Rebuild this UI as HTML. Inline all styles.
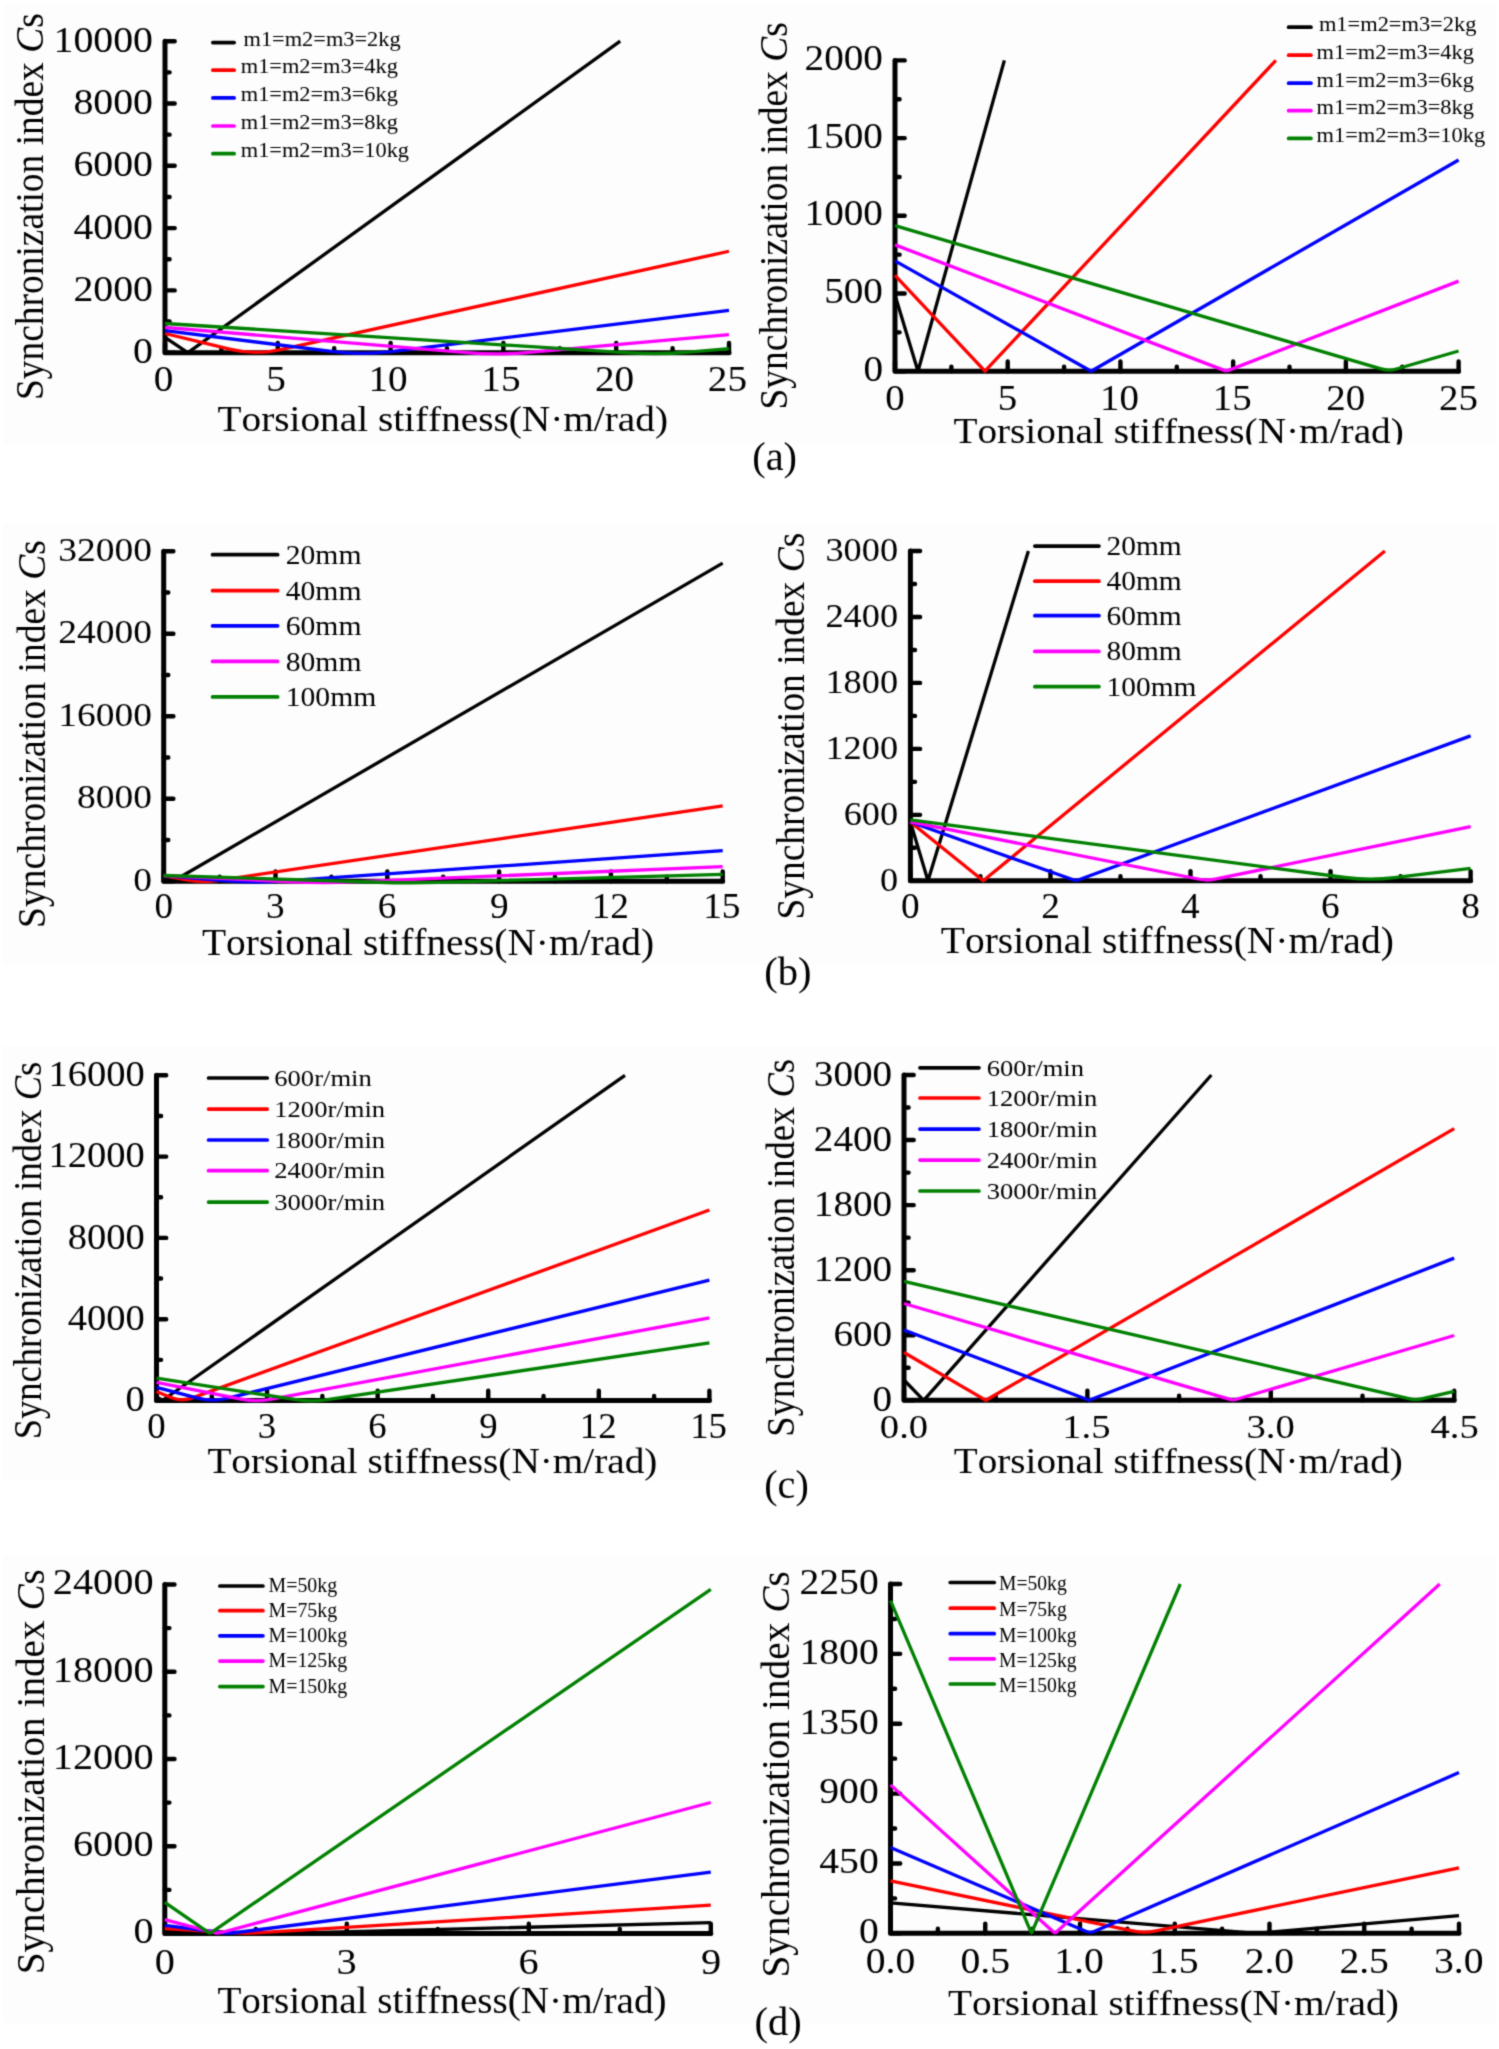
<!DOCTYPE html>
<html><head><meta charset="utf-8"><style>
html,body{margin:0;padding:0;background:#fff;}
svg{display:block;}
text{font-family:"Liberation Serif", serif;font-kerning:none;font-variant-ligatures:none;}
</style></head><body>
<svg width="1499" height="2049" viewBox="0 0 1499 2049">
<defs><filter id="bl" x="0" y="0" width="1" height="1" color-interpolation-filters="sRGB"><feConvolveMatrix order="3" kernelMatrix="0.02768 0.11101 0.02768 0.11101 0.44521 0.11101 0.02768 0.11101 0.02768" edgeMode="duplicate" preserveAlpha="true"/></filter></defs>
<g filter="url(#bl)">
<rect width="1499" height="2049" fill="#fff"/>
<rect x="4" y="4" width="1492" height="440.5" fill="#fdfdfd"/>
<rect x="3" y="524" width="1493" height="441.5" fill="#fdfdfd"/>
<rect x="3" y="1046" width="1493" height="435" fill="#fdfdfd"/>
<rect x="3" y="1556" width="1493" height="467" fill="#fdfdfd"/>
<path d="M165.00,41.20 L165.00,352.70 L729.00,352.70" fill="none" stroke="#000" stroke-width="5" stroke-linejoin="round" stroke-linecap="round"/>
<path d="M165.00,352.70 h9.7 M165.00,321.55 h4.6 M165.00,290.40 h9.7 M165.00,259.25 h4.6 M165.00,228.10 h9.7 M165.00,196.95 h4.6 M165.00,165.80 h9.7 M165.00,134.65 h4.6 M165.00,103.50 h9.7 M165.00,72.35 h4.6 M165.00,41.20 h9.7 M165.00,352.70 v-9.7 M221.40,352.70 v-4.6 M277.80,352.70 v-9.7 M334.20,352.70 v-4.6 M390.60,352.70 v-9.7 M447.00,352.70 v-4.6 M503.40,352.70 v-9.7 M559.80,352.70 v-4.6 M616.20,352.70 v-9.7 M672.60,352.70 v-4.6 M729.00,352.70 v-9.7" fill="none" stroke="#000" stroke-width="4.4" stroke-linecap="round"/>
<path d="M165.00,337.44 L185.51,351.04 Q188.01,352.70 190.44,350.95 L620.20,41.20" fill="none" stroke="#000000" stroke-width="3.3" stroke-linejoin="round"/>
<path d="M165.00,333.51 L230.71,349.34 Q255.01,355.20 279.43,349.84 L729.00,251.26" fill="none" stroke="#ff0000" stroke-width="3.3" stroke-linejoin="round"/>
<path d="M165.00,330.58 L331.51,351.47 Q361.27,355.20 391.05,351.57 L729.00,310.35" fill="none" stroke="#0000ff" stroke-width="3.3" stroke-linejoin="round"/>
<path d="M165.00,327.38 L466.74,352.69 Q496.63,355.20 526.52,352.56 L729.00,334.64" fill="none" stroke="#ff00ff" stroke-width="3.3" stroke-linejoin="round"/>
<path d="M165.00,323.51 L629.12,352.81 Q659.06,354.70 688.95,352.11 L729.00,348.64" fill="none" stroke="#008000" stroke-width="3.3" stroke-linejoin="round"/>
<text transform="translate(133.11,363.29) scale(1.1060,1)" font-size="36" fill="#000">0</text>
<text transform="translate(73.38,300.99) scale(1.1060,1)" font-size="36" fill="#000">2000</text>
<text transform="translate(73.38,238.69) scale(1.1060,1)" font-size="36" fill="#000">4000</text>
<text transform="translate(73.38,176.39) scale(1.1060,1)" font-size="36" fill="#000">6000</text>
<text transform="translate(73.38,114.09) scale(1.1060,1)" font-size="36" fill="#000">8000</text>
<text transform="translate(53.48,51.79) scale(1.1060,1)" font-size="36" fill="#000">10000</text>
<text transform="translate(153.70,390.80) scale(1.1200,1)" font-size="35" fill="#000">0</text>
<text transform="translate(266.13,390.80) scale(1.1200,1)" font-size="35" fill="#000">5</text>
<text transform="translate(368.52,390.80) scale(1.1200,1)" font-size="35" fill="#000">10</text>
<text transform="translate(481.34,390.80) scale(1.1200,1)" font-size="35" fill="#000">15</text>
<text transform="translate(594.99,390.80) scale(1.1200,1)" font-size="35" fill="#000">20</text>
<text transform="translate(707.80,390.80) scale(1.1200,1)" font-size="35" fill="#000">25</text>
<text transform="translate(217.59,430.70) scale(1.1099,1)" font-size="35.4" fill="#000">Torsional stiffness(N·m/rad)</text>
<text transform="translate(43.40,400.00) rotate(-90) scale(1.0401,1.1200)" font-size="36">Synchronization index <tspan font-style="italic">C</tspan>s</text>
<line x1="212.85" y1="42.60" x2="234.15" y2="42.60" stroke="#000000" stroke-width="3.7" stroke-linecap="round"/>
<text transform="translate(243.53,45.60) scale(1.0655,1)" font-size="21">m1=m2=m3=2kg</text>
<line x1="212.85" y1="70.20" x2="234.15" y2="70.20" stroke="#ff0000" stroke-width="3.7" stroke-linecap="round"/>
<text transform="translate(240.73,73.20) scale(1.0655,1)" font-size="21">m1=m2=m3=4kg</text>
<line x1="212.85" y1="97.90" x2="234.15" y2="97.90" stroke="#0000ff" stroke-width="3.7" stroke-linecap="round"/>
<text transform="translate(240.73,100.90) scale(1.0655,1)" font-size="21">m1=m2=m3=6kg</text>
<line x1="212.85" y1="126.00" x2="234.15" y2="126.00" stroke="#ff00ff" stroke-width="3.7" stroke-linecap="round"/>
<text transform="translate(240.73,129.00) scale(1.0655,1)" font-size="21">m1=m2=m3=8kg</text>
<line x1="212.85" y1="153.70" x2="234.15" y2="153.70" stroke="#008000" stroke-width="3.7" stroke-linecap="round"/>
<text transform="translate(240.73,156.70) scale(1.0655,1)" font-size="21">m1=m2=m3=10kg</text>
<path d="M895.00,60.40 L895.00,371.20 L1458.60,371.20" fill="none" stroke="#000" stroke-width="5" stroke-linejoin="round" stroke-linecap="round"/>
<path d="M895.00,371.20 h9.7 M895.00,332.35 h4.6 M895.00,293.50 h9.7 M895.00,254.65 h4.6 M895.00,215.80 h9.7 M895.00,176.95 h4.6 M895.00,138.10 h9.7 M895.00,99.25 h4.6 M895.00,60.40 h9.7 M895.00,371.20 v-9.7 M951.36,371.20 v-4.6 M1007.72,371.20 v-9.7 M1064.08,371.20 v-4.6 M1120.44,371.20 v-9.7 M1176.80,371.20 v-4.6 M1233.16,371.20 v-9.7 M1289.52,371.20 v-4.6 M1345.88,371.20 v-9.7 M1402.24,371.20 v-4.6 M1458.60,371.20 v-9.7" fill="none" stroke="#000" stroke-width="4.4" stroke-linecap="round"/>
<path d="M895.00,295.05 L917.99,371.20 L1004.37,60.40" fill="none" stroke="#000000" stroke-width="3.3" stroke-linejoin="round"/>
<path d="M895.00,275.47 L984.95,371.20 L1275.84,60.40" fill="none" stroke="#ff0000" stroke-width="3.3" stroke-linejoin="round"/>
<path d="M895.00,260.87 L1091.13,371.20 L1458.60,159.95" fill="none" stroke="#0000ff" stroke-width="3.3" stroke-linejoin="round"/>
<path d="M895.00,244.86 L1223.59,370.13 Q1226.40,371.20 1229.19,370.11 L1458.60,281.09" fill="none" stroke="#ff00ff" stroke-width="3.3" stroke-linejoin="round"/>
<path d="M895.00,225.59 L1381.04,368.94 Q1388.71,371.20 1396.40,368.98 L1458.60,350.97" fill="none" stroke="#008000" stroke-width="3.3" stroke-linejoin="round"/>
<text transform="translate(863.39,380.66) scale(1.1200,1)" font-size="35" fill="#000">0</text>
<text transform="translate(824.19,302.96) scale(1.1200,1)" font-size="35" fill="#000">500</text>
<text transform="translate(804.59,225.26) scale(1.1200,1)" font-size="35" fill="#000">1000</text>
<text transform="translate(804.59,147.56) scale(1.1200,1)" font-size="35" fill="#000">1500</text>
<text transform="translate(804.59,69.86) scale(1.1200,1)" font-size="35" fill="#000">2000</text>
<text transform="translate(885.28,410.00) scale(1.0800,1)" font-size="36" fill="#000">0</text>
<text transform="translate(997.63,410.00) scale(1.0800,1)" font-size="36" fill="#000">5</text>
<text transform="translate(1100.03,410.00) scale(1.0800,1)" font-size="36" fill="#000">10</text>
<text transform="translate(1212.77,410.00) scale(1.0800,1)" font-size="36" fill="#000">15</text>
<text transform="translate(1326.33,410.00) scale(1.0800,1)" font-size="36" fill="#000">20</text>
<text transform="translate(1439.07,410.00) scale(1.0800,1)" font-size="36" fill="#000">25</text>
<text transform="translate(953.39,443.40) scale(1.0733,1)" font-size="36.6" fill="#000">Torsional stiffness(N·m/rad)</text>
<text transform="translate(787.00,409.61) rotate(-90) scale(1.0422,1.1400)" font-size="36">Synchronization index <tspan font-style="italic">C</tspan>s</text>
<line x1="1288.65" y1="27.20" x2="1310.95" y2="27.20" stroke="#000000" stroke-width="3.7" stroke-linecap="round"/>
<text transform="translate(1318.93,30.80) scale(1.0936,1)" font-size="20.5">m1=m2=m3=2kg</text>
<line x1="1288.65" y1="55.20" x2="1310.95" y2="55.20" stroke="#ff0000" stroke-width="3.7" stroke-linecap="round"/>
<text transform="translate(1316.53,58.80) scale(1.0936,1)" font-size="20.5">m1=m2=m3=4kg</text>
<line x1="1288.65" y1="83.20" x2="1310.95" y2="83.20" stroke="#0000ff" stroke-width="3.7" stroke-linecap="round"/>
<text transform="translate(1316.53,86.80) scale(1.0936,1)" font-size="20.5">m1=m2=m3=6kg</text>
<line x1="1288.65" y1="110.70" x2="1310.95" y2="110.70" stroke="#ff00ff" stroke-width="3.7" stroke-linecap="round"/>
<text transform="translate(1316.53,114.30) scale(1.0936,1)" font-size="20.5">m1=m2=m3=8kg</text>
<line x1="1288.65" y1="138.40" x2="1310.95" y2="138.40" stroke="#008000" stroke-width="3.7" stroke-linecap="round"/>
<text transform="translate(1316.53,142.00) scale(1.0936,1)" font-size="20.5">m1=m2=m3=10kg</text>
<path d="M163.70,551.30 L163.70,881.20 L722.70,881.20" fill="none" stroke="#000" stroke-width="5" stroke-linejoin="round" stroke-linecap="round"/>
<path d="M163.70,881.20 h9.7 M163.70,839.96 h4.6 M163.70,798.73 h9.7 M163.70,757.49 h4.6 M163.70,716.25 h9.7 M163.70,675.01 h4.6 M163.70,633.77 h9.7 M163.70,592.54 h4.6 M163.70,551.30 h9.7 M163.70,881.20 v-9.7 M219.60,881.20 v-4.6 M275.50,881.20 v-9.7 M331.40,881.20 v-4.6 M387.30,881.20 v-9.7 M443.20,881.20 v-4.6 M499.10,881.20 v-9.7 M555.00,881.20 v-4.6 M610.90,881.20 v-9.7 M666.80,881.20 v-4.6 M722.70,881.20 v-9.7" fill="none" stroke="#000" stroke-width="4.4" stroke-linecap="round"/>
<path d="M163.70,875.68 L170.47,879.68 Q173.05,881.20 175.65,879.70 L722.70,563.11" fill="none" stroke="#000000" stroke-width="3.3" stroke-linejoin="round"/>
<path d="M163.70,875.68 L187.70,880.03 Q202.46,882.70 217.30,880.51 L722.70,805.93" fill="none" stroke="#ff0000" stroke-width="3.3" stroke-linejoin="round"/>
<path d="M163.70,875.68 L221.94,880.65 Q251.84,883.20 281.76,881.14 L722.70,850.72" fill="none" stroke="#0000ff" stroke-width="3.3" stroke-linejoin="round"/>
<path d="M163.70,875.68 L291.74,881.77 Q321.71,883.20 351.69,881.96 L722.70,866.67" fill="none" stroke="#ff00ff" stroke-width="3.3" stroke-linejoin="round"/>
<path d="M163.70,875.48 L378.18,882.25 Q408.17,883.20 438.16,882.35 L722.70,874.33" fill="none" stroke="#008000" stroke-width="3.3" stroke-linejoin="round"/>
<text transform="translate(133.37,890.67) scale(1.1200,1)" font-size="33.5" fill="#000">0</text>
<text transform="translate(77.09,808.20) scale(1.1200,1)" font-size="33.5" fill="#000">8000</text>
<text transform="translate(58.33,725.72) scale(1.1200,1)" font-size="33.5" fill="#000">16000</text>
<text transform="translate(58.33,643.25) scale(1.1200,1)" font-size="33.5" fill="#000">24000</text>
<text transform="translate(58.33,560.77) scale(1.1200,1)" font-size="33.5" fill="#000">32000</text>
<text transform="translate(154.38,918.20) scale(1.0500,1)" font-size="35.5" fill="#000">0</text>
<text transform="translate(266.02,918.20) scale(1.0500,1)" font-size="35.5" fill="#000">3</text>
<text transform="translate(377.74,918.20) scale(1.0500,1)" font-size="35.5" fill="#000">6</text>
<text transform="translate(489.95,918.20) scale(1.0500,1)" font-size="35.5" fill="#000">9</text>
<text transform="translate(591.65,918.20) scale(1.0500,1)" font-size="35.5" fill="#000">12</text>
<text transform="translate(703.15,918.20) scale(1.0500,1)" font-size="35.5" fill="#000">15</text>
<text transform="translate(201.99,955.00) scale(1.0684,1)" font-size="36.9" fill="#000">Torsional stiffness(N·m/rad)</text>
<text transform="translate(44.50,927.91) rotate(-90) scale(1.0431,1.1300)" font-size="36">Synchronization index <tspan font-style="italic">C</tspan>s</text>
<line x1="212.55" y1="554.70" x2="277.65" y2="554.70" stroke="#000000" stroke-width="3.7" stroke-linecap="round"/>
<text transform="translate(285.70,564.10) scale(1.0980,1)" font-size="27">20mm</text>
<line x1="212.55" y1="590.70" x2="277.65" y2="590.70" stroke="#ff0000" stroke-width="3.7" stroke-linecap="round"/>
<text transform="translate(285.70,600.10) scale(1.0980,1)" font-size="27">40mm</text>
<line x1="212.55" y1="625.80" x2="277.65" y2="625.80" stroke="#0000ff" stroke-width="3.7" stroke-linecap="round"/>
<text transform="translate(285.70,635.20) scale(1.0980,1)" font-size="27">60mm</text>
<line x1="212.55" y1="661.40" x2="277.65" y2="661.40" stroke="#ff00ff" stroke-width="3.7" stroke-linecap="round"/>
<text transform="translate(285.70,670.80) scale(1.0980,1)" font-size="27">80mm</text>
<line x1="212.55" y1="696.90" x2="277.65" y2="696.90" stroke="#008000" stroke-width="3.7" stroke-linecap="round"/>
<text transform="translate(285.70,706.30) scale(1.0980,1)" font-size="27">100mm</text>
<path d="M910.40,551.00 L910.40,880.80 L1470.60,880.80" fill="none" stroke="#000" stroke-width="5" stroke-linejoin="round" stroke-linecap="round"/>
<path d="M910.40,880.80 h9.7 M910.40,847.82 h4.6 M910.40,814.84 h9.7 M910.40,781.86 h4.6 M910.40,748.88 h9.7 M910.40,715.90 h4.6 M910.40,682.92 h9.7 M910.40,649.94 h4.6 M910.40,616.96 h9.7 M910.40,583.98 h4.6 M910.40,551.00 h9.7 M910.40,880.80 v-9.7 M980.42,880.80 v-4.6 M1050.45,880.80 v-9.7 M1120.47,880.80 v-4.6 M1190.50,880.80 v-9.7 M1260.52,880.80 v-4.6 M1330.55,880.80 v-9.7 M1400.57,880.80 v-4.6 M1470.60,880.80 v-9.7" fill="none" stroke="#000" stroke-width="4.4" stroke-linecap="round"/>
<path d="M910.40,821.99 L927.98,880.80 L1028.39,551.00" fill="none" stroke="#000000" stroke-width="3.3" stroke-linejoin="round"/>
<path d="M910.40,821.99 L983.23,880.80 L1384.90,551.00" fill="none" stroke="#ff0000" stroke-width="3.3" stroke-linejoin="round"/>
<path d="M910.40,821.99 L1073.18,879.80 Q1076.01,880.80 1078.83,879.77 L1470.60,735.84" fill="none" stroke="#0000ff" stroke-width="3.3" stroke-linejoin="round"/>
<path d="M910.40,821.99 L1199.46,879.25 Q1207.31,880.80 1215.14,879.19 L1470.60,826.65" fill="none" stroke="#ff00ff" stroke-width="3.3" stroke-linejoin="round"/>
<path d="M910.40,819.79 L1344.98,877.51 Q1369.76,880.80 1394.57,877.72 L1470.60,868.29" fill="none" stroke="#008000" stroke-width="3.3" stroke-linejoin="round"/>
<text transform="translate(879.93,890.61) scale(1.1000,1)" font-size="33" fill="#000">0</text>
<text transform="translate(843.63,824.65) scale(1.1000,1)" font-size="33" fill="#000">600</text>
<text transform="translate(825.48,758.69) scale(1.1000,1)" font-size="33" fill="#000">1200</text>
<text transform="translate(825.48,692.73) scale(1.1000,1)" font-size="33" fill="#000">1800</text>
<text transform="translate(825.48,626.77) scale(1.1000,1)" font-size="33" fill="#000">2400</text>
<text transform="translate(825.48,560.81) scale(1.1000,1)" font-size="33" fill="#000">3000</text>
<text transform="translate(901.08,918.20) scale(1.0500,1)" font-size="35.5" fill="#000">0</text>
<text transform="translate(1041.34,918.20) scale(1.0500,1)" font-size="35.5" fill="#000">2</text>
<text transform="translate(1181.11,918.20) scale(1.0500,1)" font-size="35.5" fill="#000">4</text>
<text transform="translate(1320.99,918.20) scale(1.0500,1)" font-size="35.5" fill="#000">6</text>
<text transform="translate(1461.28,918.20) scale(1.0500,1)" font-size="35.5" fill="#000">8</text>
<text transform="translate(940.79,953.30) scale(1.0705,1)" font-size="36.9" fill="#000">Torsional stiffness(N·m/rad)</text>
<text transform="translate(803.70,919.50) rotate(-90) scale(1.0401,1.1300)" font-size="36">Synchronization index <tspan font-style="italic">C</tspan>s</text>
<line x1="1034.85" y1="546.10" x2="1098.95" y2="546.10" stroke="#000000" stroke-width="3.7" stroke-linecap="round"/>
<text transform="translate(1106.51,555.10) scale(1.1112,1)" font-size="26.5">20mm</text>
<line x1="1034.85" y1="581.20" x2="1098.95" y2="581.20" stroke="#ff0000" stroke-width="3.7" stroke-linecap="round"/>
<text transform="translate(1106.51,590.20) scale(1.1112,1)" font-size="26.5">40mm</text>
<line x1="1034.85" y1="615.70" x2="1098.95" y2="615.70" stroke="#0000ff" stroke-width="3.7" stroke-linecap="round"/>
<text transform="translate(1106.51,624.70) scale(1.1112,1)" font-size="26.5">60mm</text>
<line x1="1034.85" y1="651.40" x2="1098.95" y2="651.40" stroke="#ff00ff" stroke-width="3.7" stroke-linecap="round"/>
<text transform="translate(1106.51,660.40) scale(1.1112,1)" font-size="26.5">80mm</text>
<line x1="1034.85" y1="686.70" x2="1098.95" y2="686.70" stroke="#008000" stroke-width="3.7" stroke-linecap="round"/>
<text transform="translate(1106.51,695.70) scale(1.1112,1)" font-size="26.5">100mm</text>
<path d="M156.50,1075.30 L156.50,1400.50 L709.40,1400.50" fill="none" stroke="#000" stroke-width="5" stroke-linejoin="round" stroke-linecap="round"/>
<path d="M156.50,1400.50 h9.7 M156.50,1359.85 h4.6 M156.50,1319.20 h9.7 M156.50,1278.55 h4.6 M156.50,1237.90 h9.7 M156.50,1197.25 h4.6 M156.50,1156.60 h9.7 M156.50,1115.95 h4.6 M156.50,1075.30 h9.7 M156.50,1400.50 v-9.7 M211.79,1400.50 v-4.6 M267.08,1400.50 v-9.7 M322.37,1400.50 v-4.6 M377.66,1400.50 v-9.7 M432.95,1400.50 v-4.6 M488.24,1400.50 v-9.7 M543.53,1400.50 v-4.6 M598.82,1400.50 v-9.7 M654.11,1400.50 v-4.6 M709.40,1400.50 v-9.7" fill="none" stroke="#000" stroke-width="4.4" stroke-linecap="round"/>
<path d="M156.50,1396.70 L159.91,1398.88 Q162.43,1400.50 164.89,1398.77 L624.99,1075.30" fill="none" stroke="#000000" stroke-width="3.3" stroke-linejoin="round"/>
<path d="M156.50,1391.54 L170.15,1397.32 Q181.20,1402.00 192.47,1397.90 L709.40,1210.02" fill="none" stroke="#ff0000" stroke-width="3.3" stroke-linejoin="round"/>
<path d="M156.50,1387.33 L197.80,1398.19 Q212.31,1402.00 226.87,1398.43 L709.40,1280.17" fill="none" stroke="#0000ff" stroke-width="3.3" stroke-linejoin="round"/>
<path d="M156.50,1382.35 L240.94,1399.08 Q255.65,1402.00 270.40,1399.27 L709.40,1317.93" fill="none" stroke="#ff00ff" stroke-width="3.3" stroke-linejoin="round"/>
<path d="M156.50,1378.22 L295.93,1399.72 Q310.76,1402.00 325.60,1399.80 L709.40,1342.91" fill="none" stroke="#008000" stroke-width="3.3" stroke-linejoin="round"/>
<text transform="translate(125.62,1411.26) scale(1.1000,1)" font-size="35" fill="#000">0</text>
<text transform="translate(67.87,1329.96) scale(1.1000,1)" font-size="35" fill="#000">4000</text>
<text transform="translate(67.87,1248.66) scale(1.1000,1)" font-size="35" fill="#000">8000</text>
<text transform="translate(48.62,1167.36) scale(1.1000,1)" font-size="35" fill="#000">12000</text>
<text transform="translate(48.62,1086.06) scale(1.1000,1)" font-size="35" fill="#000">16000</text>
<text transform="translate(147.31,1438.40) scale(1.0500,1)" font-size="35" fill="#000">0</text>
<text transform="translate(257.73,1438.40) scale(1.0500,1)" font-size="35" fill="#000">3</text>
<text transform="translate(368.23,1438.40) scale(1.0500,1)" font-size="35" fill="#000">6</text>
<text transform="translate(479.21,1438.40) scale(1.0500,1)" font-size="35" fill="#000">9</text>
<text transform="translate(579.84,1438.40) scale(1.0500,1)" font-size="35" fill="#000">12</text>
<text transform="translate(690.13,1438.40) scale(1.0500,1)" font-size="35" fill="#000">15</text>
<text transform="translate(207.39,1472.70) scale(1.1181,1)" font-size="35.1" fill="#000">Torsional stiffness(N·m/rad)</text>
<text transform="translate(41.00,1439.35) rotate(-90) scale(1.0156,1.0900)" font-size="36">Synchronization index <tspan font-style="italic">C</tspan>s</text>
<line x1="208.55" y1="1078.00" x2="267.25" y2="1078.00" stroke="#000000" stroke-width="3.7" stroke-linecap="round"/>
<text transform="translate(274.26,1085.50) scale(1.1669,1)" font-size="22.8">600r/min</text>
<line x1="208.55" y1="1109.10" x2="267.25" y2="1109.10" stroke="#ff0000" stroke-width="3.7" stroke-linecap="round"/>
<text transform="translate(274.26,1116.60) scale(1.1669,1)" font-size="22.8">1200r/min</text>
<line x1="208.55" y1="1140.00" x2="267.25" y2="1140.00" stroke="#0000ff" stroke-width="3.7" stroke-linecap="round"/>
<text transform="translate(274.26,1147.50) scale(1.1669,1)" font-size="22.8">1800r/min</text>
<line x1="208.55" y1="1170.70" x2="267.25" y2="1170.70" stroke="#ff00ff" stroke-width="3.7" stroke-linecap="round"/>
<text transform="translate(274.26,1178.20) scale(1.1669,1)" font-size="22.8">2400r/min</text>
<line x1="208.55" y1="1202.10" x2="267.25" y2="1202.10" stroke="#008000" stroke-width="3.7" stroke-linecap="round"/>
<text transform="translate(274.26,1209.60) scale(1.1669,1)" font-size="22.8">3000r/min</text>
<path d="M904.00,1075.00 L904.00,1400.30 L1454.20,1400.30" fill="none" stroke="#000" stroke-width="5" stroke-linejoin="round" stroke-linecap="round"/>
<path d="M904.00,1400.30 h9.7 M904.00,1367.77 h4.6 M904.00,1335.24 h9.7 M904.00,1302.71 h4.6 M904.00,1270.18 h9.7 M904.00,1237.65 h4.6 M904.00,1205.12 h9.7 M904.00,1172.59 h4.6 M904.00,1140.06 h9.7 M904.00,1107.53 h4.6 M904.00,1075.00 h9.7 M904.00,1400.30 v-9.7 M995.70,1400.30 v-4.6 M1087.40,1400.30 v-9.7 M1179.10,1400.30 v-4.6 M1270.80,1400.30 v-9.7 M1362.50,1400.30 v-4.6 M1454.20,1400.30 v-9.7" fill="none" stroke="#000" stroke-width="4.4" stroke-linecap="round"/>
<path d="M904.00,1380.02 L923.68,1400.30 L1211.37,1075.00" fill="none" stroke="#000000" stroke-width="3.3" stroke-linejoin="round"/>
<path d="M904.00,1352.48 L985.92,1400.30 L1454.20,1128.69" fill="none" stroke="#ff0000" stroke-width="3.3" stroke-linejoin="round"/>
<path d="M904.00,1330.04 L1089.11,1400.30 L1454.20,1258.16" fill="none" stroke="#0000ff" stroke-width="3.3" stroke-linejoin="round"/>
<path d="M904.00,1303.47 L1230.02,1399.45 Q1232.90,1400.30 1235.78,1399.46 L1454.20,1335.53" fill="none" stroke="#ff00ff" stroke-width="3.3" stroke-linejoin="round"/>
<path d="M904.00,1281.46 L1409.84,1398.94 Q1415.69,1400.30 1421.53,1398.94 L1454.20,1391.35" fill="none" stroke="#008000" stroke-width="3.3" stroke-linejoin="round"/>
<text transform="translate(872.59,1411.26) scale(1.1200,1)" font-size="35" fill="#000">0</text>
<text transform="translate(833.39,1346.20) scale(1.1200,1)" font-size="35" fill="#000">600</text>
<text transform="translate(813.79,1281.14) scale(1.1200,1)" font-size="35" fill="#000">1200</text>
<text transform="translate(813.79,1216.08) scale(1.1200,1)" font-size="35" fill="#000">1800</text>
<text transform="translate(813.79,1151.02) scale(1.1200,1)" font-size="35" fill="#000">2400</text>
<text transform="translate(813.79,1085.96) scale(1.1200,1)" font-size="35" fill="#000">3000</text>
<text transform="translate(879.85,1438.20) scale(1.1200,1)" font-size="34.5" fill="#000">0.0</text>
<text transform="translate(1062.31,1438.20) scale(1.1200,1)" font-size="34.5" fill="#000">1.5</text>
<text transform="translate(1246.46,1438.20) scale(1.1200,1)" font-size="34.5" fill="#000">3.0</text>
<text transform="translate(1430.43,1438.20) scale(1.1200,1)" font-size="34.5" fill="#000">4.5</text>
<text transform="translate(953.79,1472.70) scale(1.1159,1)" font-size="35.1" fill="#000">Torsional stiffness(N·m/rad)</text>
<text transform="translate(794.40,1436.65) rotate(-90) scale(1.0156,1.1000)" font-size="36">Synchronization index <tspan font-style="italic">C</tspan>s</text>
<line x1="919.95" y1="1067.80" x2="978.95" y2="1067.80" stroke="#000000" stroke-width="3.7" stroke-linecap="round"/>
<text transform="translate(986.66,1076.00) scale(1.1543,1)" font-size="23">600r/min</text>
<line x1="919.95" y1="1098.00" x2="978.95" y2="1098.00" stroke="#ff0000" stroke-width="3.7" stroke-linecap="round"/>
<text transform="translate(986.66,1106.20) scale(1.1543,1)" font-size="23">1200r/min</text>
<line x1="919.95" y1="1129.10" x2="978.95" y2="1129.10" stroke="#0000ff" stroke-width="3.7" stroke-linecap="round"/>
<text transform="translate(986.66,1137.30) scale(1.1543,1)" font-size="23">1800r/min</text>
<line x1="919.95" y1="1160.10" x2="978.95" y2="1160.10" stroke="#ff00ff" stroke-width="3.7" stroke-linecap="round"/>
<text transform="translate(986.66,1168.30) scale(1.1543,1)" font-size="23">2400r/min</text>
<line x1="919.95" y1="1191.00" x2="978.95" y2="1191.00" stroke="#008000" stroke-width="3.7" stroke-linecap="round"/>
<text transform="translate(986.66,1199.20) scale(1.1543,1)" font-size="23">3000r/min</text>
<path d="M164.80,1584.50 L164.80,1933.50 L710.80,1933.50" fill="none" stroke="#000" stroke-width="5" stroke-linejoin="round" stroke-linecap="round"/>
<path d="M164.80,1933.50 h9.7 M164.80,1889.88 h4.6 M164.80,1846.25 h9.7 M164.80,1802.62 h4.6 M164.80,1759.00 h9.7 M164.80,1715.38 h4.6 M164.80,1671.75 h9.7 M164.80,1628.12 h4.6 M164.80,1584.50 h9.7 M164.80,1933.50 v-9.7 M255.80,1933.50 v-4.6 M346.80,1933.50 v-9.7 M437.80,1933.50 v-4.6 M528.80,1933.50 v-9.7 M619.80,1933.50 v-4.6 M710.80,1933.50 v-9.7" fill="none" stroke="#000" stroke-width="4.4" stroke-linecap="round"/>
<path d="M164.80,1930.65 L271.89,1933.26 Q281.89,1933.50 291.88,1933.25 L710.80,1922.60" fill="none" stroke="#000000" stroke-width="3.3" stroke-linejoin="round"/>
<path d="M164.80,1928.60 L236.11,1932.90 Q246.09,1933.50 256.07,1932.89 L710.80,1905.21" fill="none" stroke="#ff0000" stroke-width="3.3" stroke-linejoin="round"/>
<path d="M164.80,1925.46 L220.81,1932.50 Q228.74,1933.50 236.68,1932.49 L710.80,1872.03" fill="none" stroke="#0000ff" stroke-width="3.3" stroke-linejoin="round"/>
<path d="M164.80,1919.60 L213.59,1932.48 Q217.46,1933.50 221.32,1932.47 L710.80,1802.48" fill="none" stroke="#ff00ff" stroke-width="3.3" stroke-linejoin="round"/>
<path d="M164.80,1902.34 L208.29,1932.36 Q209.94,1933.50 211.58,1932.37 L710.80,1589.42" fill="none" stroke="#008000" stroke-width="3.3" stroke-linejoin="round"/>
<text transform="translate(133.38,1943.29) scale(1.1200,1)" font-size="36" fill="#000">0</text>
<text transform="translate(72.90,1856.04) scale(1.1200,1)" font-size="36" fill="#000">6000</text>
<text transform="translate(52.74,1768.79) scale(1.1200,1)" font-size="36" fill="#000">12000</text>
<text transform="translate(52.74,1681.54) scale(1.1200,1)" font-size="36" fill="#000">18000</text>
<text transform="translate(52.74,1594.29) scale(1.1200,1)" font-size="36" fill="#000">24000</text>
<text transform="translate(154.72,1974.20) scale(1.1200,1)" font-size="36" fill="#000">0</text>
<text transform="translate(336.54,1974.20) scale(1.1200,1)" font-size="36" fill="#000">3</text>
<text transform="translate(518.45,1974.20) scale(1.1200,1)" font-size="36" fill="#000">6</text>
<text transform="translate(700.90,1974.20) scale(1.1200,1)" font-size="36" fill="#000">9</text>
<text transform="translate(217.39,2013.00) scale(1.0174,1)" font-size="38.5" fill="#000">Torsional stiffness(N·m/rad)</text>
<text transform="translate(43.70,1974.32) rotate(-90) scale(1.0895,1.1200)" font-size="36">Synchronization index <tspan font-style="italic">C</tspan>s</text>
<line x1="219.85" y1="1586.00" x2="262.95" y2="1586.00" stroke="#000000" stroke-width="3.7" stroke-linecap="round"/>
<text transform="translate(268.53,1592.10) scale(0.9940,1)" font-size="20">M=50kg</text>
<line x1="219.85" y1="1610.70" x2="262.95" y2="1610.70" stroke="#ff0000" stroke-width="3.7" stroke-linecap="round"/>
<text transform="translate(268.53,1616.80) scale(0.9940,1)" font-size="20">M=75kg</text>
<line x1="219.85" y1="1635.80" x2="262.95" y2="1635.80" stroke="#0000ff" stroke-width="3.7" stroke-linecap="round"/>
<text transform="translate(268.53,1641.90) scale(0.9940,1)" font-size="20">M=100kg</text>
<line x1="219.85" y1="1661.10" x2="262.95" y2="1661.10" stroke="#ff00ff" stroke-width="3.7" stroke-linecap="round"/>
<text transform="translate(268.53,1667.20) scale(0.9940,1)" font-size="20">M=125kg</text>
<line x1="219.85" y1="1686.60" x2="262.95" y2="1686.60" stroke="#008000" stroke-width="3.7" stroke-linecap="round"/>
<text transform="translate(268.53,1692.70) scale(0.9940,1)" font-size="20">M=150kg</text>
<path d="M890.50,1584.00 L890.50,1933.30 L1459.00,1933.30" fill="none" stroke="#000" stroke-width="5" stroke-linejoin="round" stroke-linecap="round"/>
<path d="M890.50,1933.30 h9.7 M890.50,1898.37 h4.6 M890.50,1863.44 h9.7 M890.50,1828.51 h4.6 M890.50,1793.58 h9.7 M890.50,1758.65 h4.6 M890.50,1723.72 h9.7 M890.50,1688.79 h4.6 M890.50,1653.86 h9.7 M890.50,1618.93 h4.6 M890.50,1584.00 h9.7 M890.50,1933.30 v-9.7 M937.88,1933.30 v-4.6 M985.25,1933.30 v-9.7 M1032.62,1933.30 v-4.6 M1080.00,1933.30 v-9.7 M1127.38,1933.30 v-4.6 M1174.75,1933.30 v-9.7 M1222.12,1933.30 v-4.6 M1269.50,1933.30 v-9.7 M1316.88,1933.30 v-4.6 M1364.25,1933.30 v-9.7 M1411.62,1933.30 v-4.6 M1459.00,1933.30 v-9.7" fill="none" stroke="#000" stroke-width="4.4" stroke-linecap="round"/>
<path d="M890.50,1902.87 L1250.26,1932.80 Q1256.23,1933.30 1262.21,1932.78 L1459.00,1915.69" fill="none" stroke="#000000" stroke-width="3.3" stroke-linejoin="round"/>
<path d="M890.50,1880.98 L1132.68,1930.88 Q1144.43,1933.30 1156.18,1930.86 L1459.00,1867.84" fill="none" stroke="#ff0000" stroke-width="3.3" stroke-linejoin="round"/>
<path d="M890.50,1847.45 L1085.64,1931.33 Q1090.23,1933.30 1094.82,1931.30 L1459.00,1772.58" fill="none" stroke="#0000ff" stroke-width="3.3" stroke-linejoin="round"/>
<path d="M890.50,1784.89 L1053.50,1931.96 Q1054.99,1933.30 1056.47,1931.96 L1439.80,1584.00" fill="none" stroke="#ff00ff" stroke-width="3.3" stroke-linejoin="round"/>
<path d="M890.50,1600.61 L1031.10,1932.38 Q1031.49,1933.30 1031.88,1932.38 L1180.26,1584.00" fill="none" stroke="#008000" stroke-width="3.3" stroke-linejoin="round"/>
<text transform="translate(858.91,1943.09) scale(1.1000,1)" font-size="36" fill="#000">0</text>
<text transform="translate(819.31,1873.23) scale(1.1000,1)" font-size="36" fill="#000">450</text>
<text transform="translate(819.31,1803.37) scale(1.1000,1)" font-size="36" fill="#000">900</text>
<text transform="translate(799.51,1733.51) scale(1.1000,1)" font-size="36" fill="#000">1350</text>
<text transform="translate(799.51,1663.65) scale(1.1000,1)" font-size="36" fill="#000">1800</text>
<text transform="translate(799.51,1593.79) scale(1.1000,1)" font-size="36" fill="#000">2250</text>
<text transform="translate(865.75,1973.00) scale(1.1000,1)" font-size="36" fill="#000">0.0</text>
<text transform="translate(960.52,1973.00) scale(1.1000,1)" font-size="36" fill="#000">0.5</text>
<text transform="translate(1054.26,1973.00) scale(1.1000,1)" font-size="36" fill="#000">1.0</text>
<text transform="translate(1149.03,1973.00) scale(1.1000,1)" font-size="36" fill="#000">1.5</text>
<text transform="translate(1244.63,1973.00) scale(1.1000,1)" font-size="36" fill="#000">2.0</text>
<text transform="translate(1339.40,1973.00) scale(1.1000,1)" font-size="36" fill="#000">2.5</text>
<text transform="translate(1434.06,1973.00) scale(1.1000,1)" font-size="36" fill="#000">3.0</text>
<text transform="translate(947.99,2014.50) scale(1.0740,1)" font-size="36.6" fill="#000">Torsional stiffness(N·m/rad)</text>
<text transform="translate(788.90,1977.53) rotate(-90) scale(1.0925,1.1000)" font-size="36">Synchronization index <tspan font-style="italic">C</tspan>s</text>
<line x1="950.25" y1="1582.50" x2="994.25" y2="1582.50" stroke="#000000" stroke-width="3.7" stroke-linecap="round"/>
<text transform="translate(999.03,1590.40) scale(0.9808,1)" font-size="20">M=50kg</text>
<line x1="950.25" y1="1608.20" x2="994.25" y2="1608.20" stroke="#ff0000" stroke-width="3.7" stroke-linecap="round"/>
<text transform="translate(999.03,1616.10) scale(0.9808,1)" font-size="20">M=75kg</text>
<line x1="950.25" y1="1633.70" x2="994.25" y2="1633.70" stroke="#0000ff" stroke-width="3.7" stroke-linecap="round"/>
<text transform="translate(999.03,1641.60) scale(0.9808,1)" font-size="20">M=100kg</text>
<line x1="950.25" y1="1658.90" x2="994.25" y2="1658.90" stroke="#ff00ff" stroke-width="3.7" stroke-linecap="round"/>
<text transform="translate(999.03,1666.80) scale(0.9808,1)" font-size="20">M=125kg</text>
<line x1="950.25" y1="1684.00" x2="994.25" y2="1684.00" stroke="#008000" stroke-width="3.7" stroke-linecap="round"/>
<text transform="translate(999.03,1691.90) scale(0.9808,1)" font-size="20">M=150kg</text>
<rect x="900" y="444.5" width="560" height="12" fill="#fff"/>
<text transform="translate(752.22,470.00) scale(1.0103,1)" font-size="40" fill="#000">(a)</text>
<text transform="translate(764.22,985.30) scale(1.0133,1)" font-size="40" fill="#000">(b)</text>
<text transform="translate(764.24,1497.70) scale(1.0030,1)" font-size="40" fill="#000">(c)</text>
<text transform="translate(754.52,2035.40) scale(1.0133,1)" font-size="40" fill="#000">(d)</text>
</g>
</svg></body></html>
